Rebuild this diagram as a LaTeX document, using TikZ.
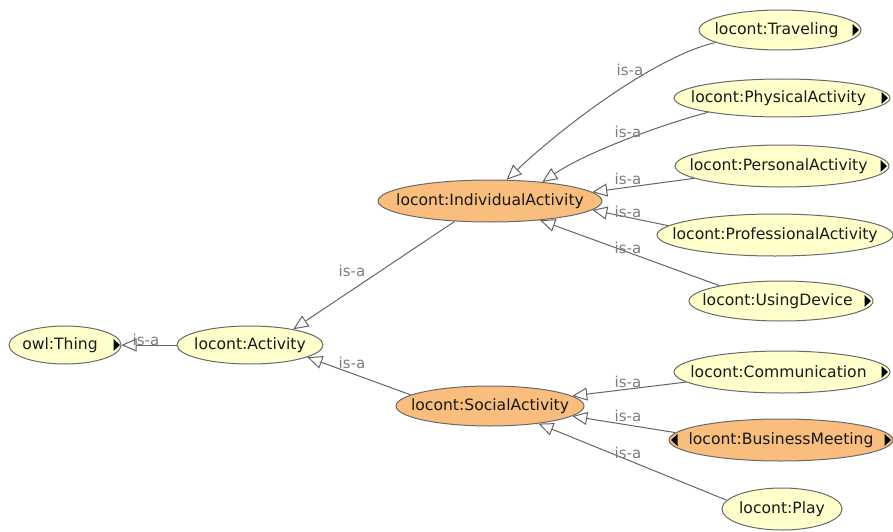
\documentclass[tikz,border=0pt]{standalone}
\usepackage{fontspec}
\setmainfont{DejaVu Sans}
\usetikzlibrary{shapes.geometric,arrows.meta}
\pgfdeclarelayer{edges}
\pgfsetlayers{edges,main}
\definecolor{classfill}{RGB}{255,255,204}
\definecolor{selfill}{RGB}{249,190,125}
\definecolor{rim}{RGB}{105,105,105}
\definecolor{edgegray}{RGB}{100,100,100}
\definecolor{labgray}{RGB}{125,125,125}
% the ellipse size comes from minimum width/height only
\newcommand{\cname}[1]{\makebox[0pt]{#1}}
\tikzset{
  cls/.style={ellipse, draw=rim, line width=1pt, fill=classfill, inner sep=0pt,
    font=\fontsize{15.6}{17}\selectfont, text=black!90},
  sel/.style={cls, fill=selfill},
  isa/.style={draw=edgegray, line width=1pt,
    -{Triangle[open, length=15pt, width=13pt, line width=1pt, fill=white]}},
  lab/.style={font=\fontsize{15}{17}\selectfont, text=labgray, inner sep=0pt},
  expander/.style={fill=black}
}
\begin{document}
\begin{tikzpicture}[x=1pt,y=-1pt]
\useasboundingbox (0,0) rectangle (893,532);
\clip (0,0) rectangle (893,532);

% class nodes
\node[cls, minimum width=112pt, minimum height=38pt] (thing) at (65,345) {\cname{owl:Thing\hspace{10pt}}};
\node[cls, minimum width=146pt, minimum height=38pt] (act) at (250,345) {\cname{locont:Activity}};
\node[sel, minimum width=224pt, minimum height=42pt] (ind) at (490,201) {\cname{locont:IndividualActivity}};
\node[sel, minimum width=188pt, minimum height=40pt] (soc) at (490,406) {\cname{locont:SocialActivity}};
\node[cls, minimum width=162pt, minimum height=40pt] (trav) at (780,30) {\cname{locont:Traveling\hspace{7pt}}};
\node[cls, minimum width=216pt, minimum height=38pt] (phys) at (782,98) {\cname{locont:PhysicalActivity\hspace{7pt}}};
\node[cls, minimum width=214pt, minimum height=42pt] (pers) at (782,166) {\cname{locont:PersonalActivity\hspace{7pt}}};
\node[cls, minimum width=236pt, minimum height=42pt] (prof) at (775,235) {\cname{locont:ProfessionalActivity}};
\node[cls, minimum width=184pt, minimum height=40pt] (using) at (781,301) {\cname{locont:UsingDevice\hspace{7pt}}};
\node[cls, minimum width=216pt, minimum height=42pt] (comm) at (782,372) {\cname{locont:Communication\hspace{7pt}}};
\node[sel, minimum width=224pt, minimum height=42pt] (bm) at (781,440) {\cname{locont:BusinessMeeting}};
\node[cls, minimum width=120pt, minimum height=42pt] (play) at (782,509) {\cname{locont:Play}};

% is-a connectors, kept underneath the ellipses
\begin{pgfonlayer}{edges}
\draw[isa] (act.west) -- (thing.east);
\draw[isa] (ind.210) -- (act.20);
\draw[isa] (soc.172) -- (act.-12);
\draw[isa] (trav.191) .. controls (660,55) and (570,120) .. (ind.52);
\draw[isa] (phys.191) .. controls (670,122) and (590,150) .. (ind.20);
\draw[isa] (pers.188) -- (ind.5);
\draw[isa] (prof.175) -- (ind.-5);
\draw[isa] (using.166) -- (ind.-21);
\draw[isa] (comm.186) -- (soc.7);
\draw[isa] (bm.176) -- (soc.-7);
\draw[isa] (play.171) -- (soc.-20);
\end{pgfonlayer}

% edge labels
\node[lab] (l1) at (146,340) {is-a};
\node[lab] (l2) at (352,271) {is-a};
\node[lab] (l3) at (352,363) {is-a};
\node[lab] (l4) at (630,70) {is-a};
\node[lab] (l5) at (628,132) {is-a};
\node[lab] (l6) at (628,179) {is-a};
\node[lab] (l7) at (628,212) {is-a};
\node[lab] (l8) at (628,248) {is-a};
\node[lab] (l9) at (628,382) {is-a};
\node[lab] (l10) at (628,416) {is-a};
\node[lab] (l11) at (628,453) {is-a};

% expand markers
\fill[expander] (thing.east) ++(-8,-6) -- ++(6.5,6) -- ++(-6.5,6) -- cycle;
\fill[expander] (trav.east) ++(-9,-6) -- ++(6.5,6) -- ++(-6.5,6) -- cycle;
\fill[expander] (phys.east) ++(-9,-6) -- ++(6.5,6) -- ++(-6.5,6) -- cycle;
\fill[expander] (pers.east) ++(-9,-6) -- ++(6.5,6) -- ++(-6.5,6) -- cycle;
\fill[expander] (using.east) ++(-9,-6) -- ++(6.5,6) -- ++(-6.5,6) -- cycle;
\fill[expander] (comm.east) ++(-9,-6) -- ++(6.5,6) -- ++(-6.5,6) -- cycle;
\fill[expander] (bm.east) ++(-9,-6) -- ++(6.5,6) -- ++(-6.5,6) -- cycle;
\fill[expander] (bm.west) ++(9,-6) -- ++(-6.5,6) -- ++(6.5,6) -- cycle;
\end{tikzpicture}
\end{document}
